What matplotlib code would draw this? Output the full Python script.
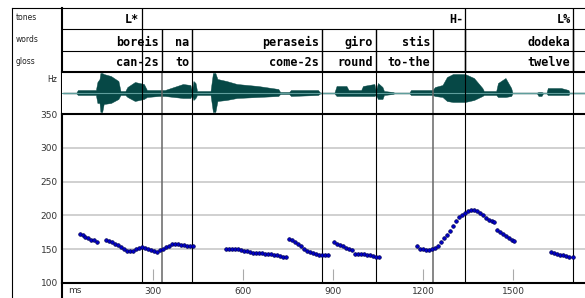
import matplotlib
matplotlib.use("Agg")
import matplotlib.pyplot as plt

# tiers (times in ms)
tone_times = [262, 1341, 1700]
tone_labels = ["L*", "H-", "L%"]
word_ends = [330, 431, 862, 1044, 1234, 1341, 1700]
words = ["boreis", "na", "peraseis", "giro", "stis", "", "dodeka"]
glosses = ["can-2s", "to", "come-2s", "round", "to-the", "", "twelve"]

# waveform envelope: time, upper and lower amplitude (px)
wave_ms = [0, 45, 50, 110, 115, 122, 125, 131, 136, 160, 185, 192, 208, 215, 240, 270,
           280, 320, 340, 370, 400, 425, 430, 435, 442, 447, 492, 500, 508, 515, 545, 580,
           650, 718, 724, 754, 760, 850, 857, 905, 912, 945, 952, 994, 1000, 1038, 1043,
           1050, 1065, 1070, 1100, 1104, 1155, 1160, 1232, 1240, 1265, 1280, 1300, 1340,
           1370, 1398, 1403, 1444, 1450, 1475, 1494, 1498, 1580, 1585, 1595, 1600, 1612,
           1616, 1660, 1685, 1688, 1740]
wave_up = [0.5, 0.5, 3, 3, 11, 14, 20, 20, 19, 17, 12, 2, 2, 6, 11, 9,
           3, 3, 3, 6, 9, 8, 2, 12, 10, 2, 2, 20, 20, 14, 12, 9,
           7, 4, 1, 1, 3, 3, 0.5, 0.5, 7, 7, 3, 3, 7, 9, 2,
           10, 6, 2, 1, 0.5, 0.5, 3, 3, 6, 8, 16, 19, 19,
           15, 5, 2, 2, 10, 15, 5, 0.5, 0.5, 1, 1, 0.5, 0.5,
           5, 5, 3, 0.5, 0.5]
wave_down = [0.5, 0.5, 2, 2, 10, 10, 19, 19, 11, 10, 6, 2, 2, 4, 8, 6,
             4, 3, 3, 4, 5, 5, 2, 7, 5, 2, 2, 19, 19, 8, 7, 5,
             4, 3, 1, 1, 3, 2, 0.5, 0.5, 3, 3, 3, 3, 3, 3, 2,
             6, 6, 2, 1, 0.5, 0.5, 2, 2, 3, 4, 8, 9, 9,
             7, 3, 2, 2, 4, 4, 3, 0.5, 0.5, 3, 3, 0.5, 0.5,
             2, 2, 2, 0.5, 0.5]

# pitch track segments (ms, Hz)
seg1_ms = [57, 66, 75, 84, 93, 102, 112]
seg1_hz = [173, 171, 168, 166, 164, 163, 161]
seg2_ms = [143, 153, 163, 173, 183, 193, 203, 213, 223, 233, 243, 253, 263, 273, 283,
           293, 303, 313, 323, 333, 343, 353, 363, 373, 383, 393, 403, 413, 423, 432]
seg2_hz = [163, 162, 160, 158, 156, 153, 150, 148, 147, 148, 150, 152, 153, 152, 150,
           149, 147, 146, 149, 151, 153, 155, 157, 158, 157, 156, 156, 155, 154, 154]
seg3_ms = [545, 555, 565, 575, 585, 595, 605, 615, 625, 635, 645, 655, 665, 675, 685,
           695, 705, 715, 725, 735, 742]
seg3_hz = [151, 151, 151, 150, 150, 149, 148, 147, 146, 145, 145, 144, 144, 143, 143,
           143, 142, 141, 140, 139, 138]
seg4_ms = [754, 764, 774, 784, 794, 804, 814, 824, 834, 844, 854, 864, 874, 882]
seg4_hz = [165, 163, 161, 158, 155, 151, 148, 146, 144, 143, 142, 141, 141, 141]
seg5_ms = [904, 914, 924, 934, 944, 954, 962, 975, 985, 995, 1005, 1015, 1025, 1035, 1045, 1054]
seg5_hz = [160, 158, 156, 154, 152, 151, 149, 143, 143, 143, 143, 142, 141, 140, 139, 139]
seg6_ms = [1179, 1189, 1199, 1209, 1219, 1229, 1239, 1249, 1259, 1269, 1279, 1289, 1299,
           1309, 1319, 1329, 1339, 1349, 1359, 1369, 1379, 1389, 1399, 1409, 1419, 1429, 1437]
seg6_hz = [154, 151, 150, 149, 149, 150, 152, 155, 160, 166, 171, 177, 184,
           191, 197, 201, 204, 207, 208, 208, 207, 204, 200, 196, 193, 191, 190]
seg7_ms = [1448, 1458, 1468, 1478, 1488, 1498, 1503]
seg7_hz = [179, 176, 173, 170, 167, 164, 162]
seg8_ms = [1626, 1636, 1646, 1656, 1666, 1676, 1686, 1699]
seg8_hz = [146, 144, 143, 142, 141, 140, 139, 138]

hz_ticks = [100, 150, 200, 250, 300, 350]
ms_ticks = [300, 600, 900, 1200, 1500]
gray_bounds = [330, 1234]

W, H = 585, 298
XMIN, XMAX = -3, 1740


def px_axes(fig, left, top, right, bottom):
    return fig.add_axes([left / W, 1 - bottom / H, (right - left) / W, (bottom - top) / H])


def main():
    fig = plt.figure(figsize=(W / 100, H / 100), dpi=100)
    mono = "DejaVu Sans Mono"
    thick = 1.5

    # frame / label column in pixel coordinates
    fr = px_axes(fig, 0, 0, W, H)
    fr.set_xlim(0, W)
    fr.set_ylim(H, 0)
    fr.axis("off")
    fr.plot([12, 12], [8, H], color="black", lw=0.8)
    fr.plot([12, W], [8, 8], color="black", lw=0.8)
    fr.plot([62, 62], [8, H], color="black", lw=thick)
    for lab, y in zip(["tones", "words", "gloss"], [18, 40, 61]):
        fr.text(16, y, lab, fontsize=5.5, va="center", ha="left", color="#222222")
    fr.text(57, 80, "Hz", fontsize=5.5, va="center", ha="right", color="#222222")

    # tier rows
    ti = px_axes(fig, 62, 8, W, 72)
    ti.set_xlim(XMIN, XMAX)
    ti.set_ylim(3, 0)
    ti.axis("off")
    ti.hlines([1, 2], XMIN, XMAX, color="black", lw=0.8)
    ti.vlines(tone_times, 0, 3, color="black", lw=0.9)
    ti.vlines(word_ends, 1, 3, color="black", lw=1.0)
    for t, lab in zip(tone_times, tone_labels):
        ti.annotate(lab, (t, 0.55), xytext=(-1.5, 0), textcoords="offset points",
                    ha="right", va="center", fontsize=8.5, family=mono, weight="bold")
    for t, w, g in zip(word_ends, words, glosses):
        ti.annotate(w, (t, 1.6), xytext=(-2, 0), textcoords="offset points",
                    ha="right", va="center", fontsize=8.5, family=mono, weight="bold")
        ti.annotate(g, (t, 2.55), xytext=(-2, 0), textcoords="offset points",
                    ha="right", va="center", fontsize=8.5, family=mono, weight="bold")

    # waveform
    wv = px_axes(fig, 62, 72, W, 114)
    wv.set_xlim(XMIN, XMAX)
    wv.set_ylim(-21, 21)
    wv.set_xticks([])
    wv.set_yticks([])
    for s in ["left", "right", "bottom"]:
        wv.spines[s].set_visible(False)
    wv.spines["top"].set_linewidth(thick)
    wv.axhline(0, color="#5f9e9c", lw=0.8)
    wv.fill_between(wave_ms, [-d for d in wave_down], wave_up, color="#064846", lw=0.3)
    for t in sorted(set(tone_times + word_ends)):
        c = "#666666" if t in gray_bounds else "black"
        wv.axvline(t, color=c, lw=1.1 if t in gray_bounds else 0.8)

    # pitch track
    ax = px_axes(fig, 62, 114, W, 283)
    ax.set_xlim(XMIN, XMAX)
    ax.set_ylim(100, 350)
    for s in ["right"]:
        ax.spines[s].set_visible(False)
    for s in ["top", "bottom", "left"]:
        ax.spines[s].set_linewidth(thick)
    ax.set_yticks(hz_ticks)
    ax.set_yticklabels([str(v) for v in hz_ticks])
    ax.set_xticks(ms_ticks)
    ax.set_xticklabels([str(v) for v in ms_ticks])
    ax.tick_params(length=0, labelsize=6.5, labelcolor="#333333", pad=3)
    ax.grid(axis="y", color="#c4c4c4", lw=1.1)
    ax.vlines(ms_ticks, 104, 121, color="#aaaaaa", lw=0.8)
    ax.text(0.012, -0.045, "ms", transform=ax.transAxes, fontsize=6.5,
            va="center", ha="left", color="#333333")
    for t in sorted(set(tone_times + word_ends)):
        c = "#666666" if t in gray_bounds else "black"
        ax.axvline(t, color=c, lw=1.1 if t in gray_bounds else 0.8)

    segs = [(seg1_ms, seg1_hz), (seg2_ms, seg2_hz), (seg3_ms, seg3_hz), (seg4_ms, seg4_hz),
            (seg5_ms, seg5_hz), (seg6_ms, seg6_hz), (seg7_ms, seg7_hz), (seg8_ms, seg8_hz)]
    for xs, ys in segs:
        ax.plot(xs, ys, linestyle="none", marker="o", markersize=2.6,
                color="#0000cc", markeredgecolor="#000055", markeredgewidth=0.5, zorder=5)

    fig.savefig("out.png", dpi=100)
    plt.close(fig)


if __name__ == "__main__":
    main()
